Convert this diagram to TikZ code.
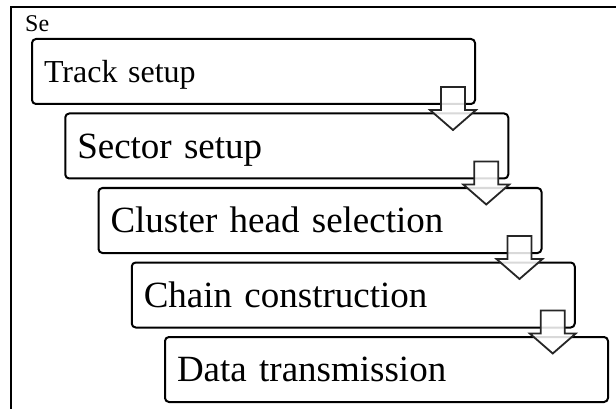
\documentclass[tikz,border=0pt]{standalone}
\usepackage{fontspec}
\setmainfont{Liberation Serif}
\usetikzlibrary{positioning}
\newcommand{\stagewidth}{443pt}
\newcommand{\stageheight}{65pt}
\newcommand{\stagestep}{33.25pt}
\newcommand{\stagegap}{9.5pt}
\newcommand{\shaftwidth}{24pt}
\newcommand{\headextend}{11pt}
\tikzstyle{stage}=[fill=white,text=black,draw=black,shape=rectangle,line width=2pt,
                   rounded corners=4pt,minimum width=\stagewidth,minimum height=\stageheight,
                   text width=419pt,align=left,inner xsep=12pt,inner ysep=0pt,outer sep=0pt,
                   font=\fontsize{37}{40}\selectfont,text height=24.5pt,text depth=0pt]
\tikzstyle{firststage}=[font=\fontsize{32}{35}\selectfont,text height=21.2pt]
\tikzstyle{caption}=[fill=none,text=black,draw=none,inner sep=0pt,
                     font=\fontsize{24}{26}\selectfont]
\tikzstyle{flowarrow}=[draw=black!85,line width=1.8pt,fill=white,fill opacity=0.85,
                       line join=miter]
\tikzstyle{frame}=[draw=black,line width=1.3pt]
\newcommand{\stagearrow}[1]{%
  \draw [flowarrow] (#1.south east) ++(-34pt,17pt) -- ++(\shaftwidth,0) -- ++(0,-23pt)
        -- ++(\headextend,0) -- ++(-23pt,-20pt) -- ++(-23pt,20pt) -- ++(\headextend,0) -- cycle;}
\begin{document}
\begin{tikzpicture}

\useasboundingbox (0,0) rectangle (616pt,-409pt);
\draw [frame] (11pt,-409pt) -- (11pt,-7pt) -- (616pt,-7pt);

\node [caption, anchor=base west] (se) at (25pt,-32pt) {Se};

\node [stage, firststage, anchor=north west] (s1) at (32pt,-39pt) {Track setup};
\node [stage, below right= \stagegap and \stagestep of s1.south west] (s2) {Sector setup};
\node [stage, below right= \stagegap and \stagestep of s2.south west] (s3) {Cluster head selection};
\node [stage, below right= \stagegap and \stagestep of s3.south west] (s4) {Chain construction};
\node [stage, below right= \stagegap and \stagestep of s4.south west] (s5) {Data transmission};

\stagearrow{s1}
\stagearrow{s2}
\stagearrow{s3}
\stagearrow{s4}
\end{tikzpicture}
\end{document}
